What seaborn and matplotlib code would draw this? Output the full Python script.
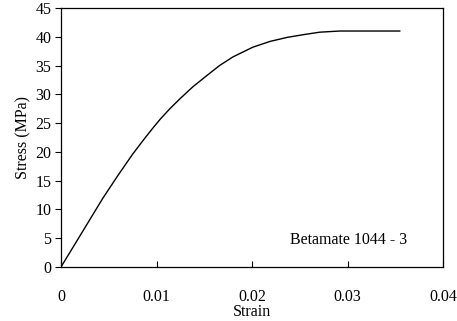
import matplotlib
matplotlib.use("Agg")
import matplotlib.pyplot as plt
import seaborn as sns
import pandas as pd

strain = [0, 0.0044, 0.0060, 0.0075, 0.0086, 0.0096, 0.0104, 0.0114, 0.0125, 0.0138,
          0.0153, 0.0166, 0.0180, 0.0201, 0.0219, 0.0237, 0.0255, 0.0271, 0.0292, 0.0355]
stress = [0, 12.0, 16.0, 19.6, 22.0, 24.1, 25.7, 27.5, 29.3, 31.3,
          33.3, 35.0, 36.5, 38.2, 39.2, 39.9, 40.4, 40.8, 41.0, 41.0]
x_ticks = [0, 0.01, 0.02, 0.03, 0.04]
x_tick_labels = ["0", "0.01", "0.02", "0.03", "0.04"]
y_ticks = [0, 5, 10, 15, 20, 25, 30, 35, 40, 45]

sns.set_theme(style="white")
plt.rcParams['font.family'] = ['Liberation Serif', 'DejaVu Serif']

df = pd.DataFrame({"Strain": strain, "Stress": stress})

fig = plt.figure(figsize=(4.57, 3.21), dpi=100)
ax = fig.add_axes([61/457, 1-267/321, (443-61)/457, (267-8)/321])
sns.lineplot(data=df, x="Strain", y="Stress", color="black", linewidth=1.0, ax=ax, estimator=None, sort=False)

ax.set_xlim(0, 0.04)
ax.set_ylim(0, 45)
ax.set_xticks(x_ticks)
ax.set_xticklabels(x_tick_labels)
ax.set_yticks(y_ticks)
for s in ax.spines.values():
    s.set_color("black")
    s.set_linewidth(0.9)
fs = 11.5
ax.tick_params(axis="x", direction="in", length=4, width=0.8, pad=16, labelsize=fs, colors="black", bottom=True)
ax.tick_params(axis="y", direction="out", length=4, width=0.8, pad=3, labelsize=fs, colors="black", left=True)
ax.set_xlabel("Strain", fontsize=fs, labelpad=-1, color="black")
ax.set_ylabel("Stress (MPa)", fontsize=fs, labelpad=3, color="black")
ax.text(0.024, 4.7, "Betamate 1044 - 3", fontsize=fs, va="center", ha="left", color="black")

fig.savefig("out.png", dpi=100)
